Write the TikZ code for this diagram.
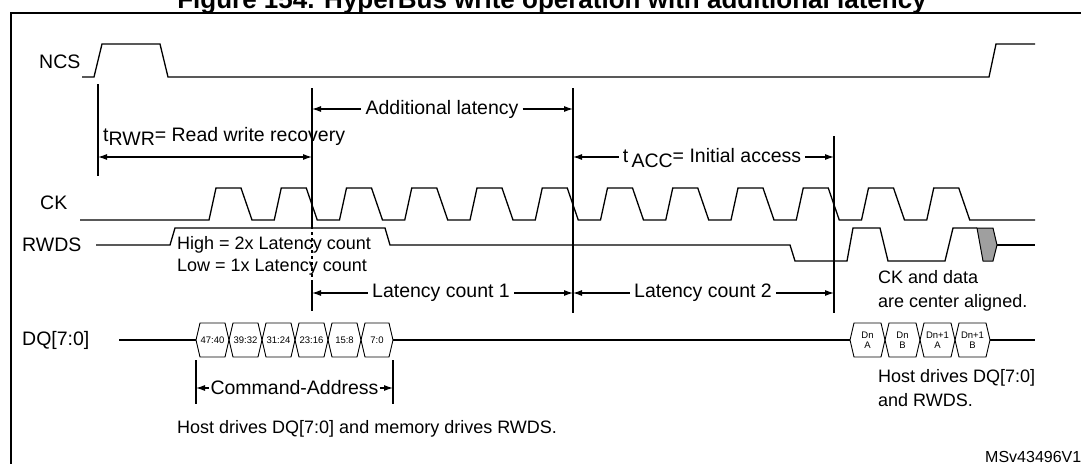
\documentclass[tikz,border=0pt]{standalone}
\usepackage{fontspec}
\setmainfont{Liberation Sans}
\usetikzlibrary{arrows.meta}
\tikzset{
  sig/.style={black,line width=1.3pt,line join=miter},
  tick/.style={black,line width=1.2pt},
  dim/.style={black,line width=1.1pt,{Latex[length=9pt,width=6pt]}-{Latex[length=9pt,width=6pt]}},
  lbl/.style={font=\fontsize{19.5}{23}\selectfont,inner sep=1pt},
  txt/.style={font=\fontsize{18}{21}\selectfont,inner sep=0pt,anchor=west,align=left},
  bus/.style={font=\fontsize{9.5}{10}\selectfont,inner sep=0pt,align=center}
}
\newcommand{\busbox}[3]{%
  \draw[sig,line width=0.9pt] (#1,340) -- (#1+4,323) -- (#2-4,323) -- (#2,340) -- (#2-4,357) -- (#1+4,357) -- cycle;
  \node[bus] at ({(#1+#2)/2},340) {#3};}
\begin{document}
\begin{tikzpicture}[x=1pt,y=-1pt]
  \useasboundingbox (0,0) rectangle (1081,463);
  \fill[white] (0,0) rectangle (1081,463);
  % title and frame
  \node[font=\bfseries\fontsize{26}{30}\selectfont,anchor=base] (title) at (552,9) {Figure 154. HyperBus write operation with additional latency};
  \draw[line width=1.5pt] (1090,13) -- (11,13) -- (11,470);
  % signal names
  \node[lbl,anchor=west] (ncs) at (38,62) {NCS};
  \node[lbl,anchor=west] (ck) at (39,203) {CK};
  \node[lbl,anchor=west] (rwds) at (21,245) {RWDS};
  \node[lbl,anchor=west] (dq) at (21,340) {DQ[7:0]};
  % NCS
  \draw[sig] (82,77) -- (94,77) -- (102,44) -- (160,44) -- (168,77) -- (989,77) -- (996,44) -- (1035,44);
  % CK
  \draw[sig] (80,220) \foreach \k in {0,...,11} {
      -- ({209+65.25*\k},220) -- ({216+65.25*\k},188) -- ({241+65.25*\k},188) -- ({252+65.25*\k},220)}
    -- (1035,220);
  % RWDS
  \draw[sig] (96,245) -- (170,245) -- (175,228) -- (385,228) -- (390,245) -- (790,245) -- (795,261)
    -- (847,261) -- (853,228) -- (880,228) -- (888,261) -- (945,261) -- (953,228) -- (977,228);
  \filldraw[sig,fill=gray!75,line width=1pt] (977,228) -- (993,228) -- (997,245) -- (993,261) -- (983,261) -- cycle;
  \draw[sig] (997,245) -- (1035,245);
  % DQ
  \draw[sig] (119,340) -- (196,340);
  \foreach \a/\b/\t in {196/229/47:40,229/262/39:32,262/295/31:24,295/328/23:16,328/361/15:8,361/393/7:0}
    {\busbox{\a}{\b}{\t}}
  \draw[sig] (393,340) -- (850,340);
  \foreach \a/\b/\t in {850/885/Dn\\A,885/920/Dn\\B,920/955/Dn+1\\A,955/990/Dn+1\\B}
    {\busbox{\a}{\b}{\t}}
  \draw[sig] (990,340) -- (1035,340);
  % timing marks
  \draw[tick] (98,84) -- (98,176);
  \draw[tick] (312,88) -- (312,226);
  \draw[tick,dashed] (312,226) -- (312,283);
  \draw[tick] (312,283) -- (312,311);
  \draw[tick] (573,88) -- (573,313);
  \draw[tick] (834,136) -- (834,313);
  \draw[tick] (196,360) -- (196,404);
  \draw[tick] (393,360) -- (393,404);
  % dimensions
  \node[lbl,fill=white,inner sep=4pt] (addlat) at (442,109) {Additional latency};
  \draw[dim,{Latex[length=9pt,width=6pt]}-] (312,109) -- (addlat);
  \draw[dim,-{Latex[length=9pt,width=6pt]}] (addlat) -- (573,109);
  \node[lbl,anchor=west] (trwr) at (102,136) {t\raisebox{-4pt}{RWR}= Read write recovery};
  \draw[dim] (98,157) -- (312,157);
  \node[lbl,fill=white,inner sep=4pt,anchor=base] (tacc) at (712,162) {t\,\raisebox{-5pt}{ACC}= Initial access};
  \draw[dim,{Latex[length=9pt,width=6pt]}-] (573,157) -- (tacc.west |- 0,157);
  \draw[dim,-{Latex[length=9pt,width=6pt]}] (tacc.east |- 0,157) -- (834,157);
  \node[lbl,fill=white,inner sep=4pt] (lc1) at (441,293) {Latency count 1};
  \draw[dim,{Latex[length=9pt,width=6pt]}-] (312,293) -- (lc1);
  \draw[dim,-{Latex[length=9pt,width=6pt]}] (lc1) -- (573,293);
  \node[lbl,fill=white,inner sep=4pt] (lc2) at (703,293) {Latency count 2};
  \draw[dim,{Latex[length=9pt,width=6pt]}-] (573,293) -- (lc2);
  \draw[dim,-{Latex[length=9pt,width=6pt]}] (lc2) -- (834,293);
  \node[lbl,fill=white,inner sep=1pt] (cmd) at (294.5,388) {Command-Address};
  \draw[dim,{Latex[length=9pt,width=6pt]}-] (196,388) -- (cmd);
  \draw[dim,-{Latex[length=9pt,width=6pt]}] (cmd) -- (393,388);
  % notes
  \node[txt] (high) at (177,245) {High = 2x Latency count};
  \node[txt] (low) at (177,267) {Low = 1x Latency count};
  \node[txt] (host) at (177,429) {Host drives DQ[7:0] and memory drives RWDS.};
  \node[txt] (center) at (878,291) {CK and data\\[3pt]are center aligned.};
  \node[txt] (hostr) at (878,388) {Host drives DQ[7:0]\\[3pt]and RWDS.};
  \node[txt,font=\fontsize{16}{19}\selectfont] (code) at (985,457) {MSv43496V1};
\end{tikzpicture}
\end{document}
